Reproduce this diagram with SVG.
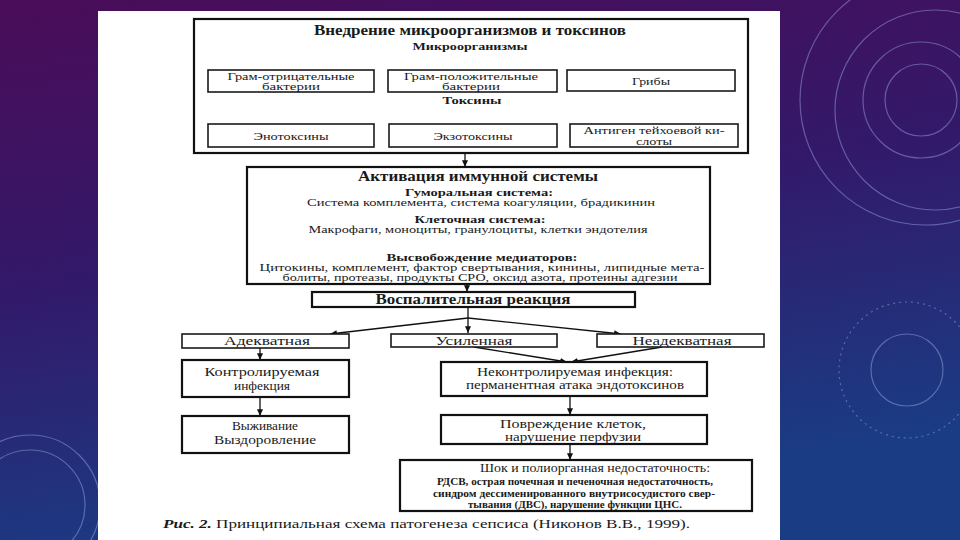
<svg xmlns="http://www.w3.org/2000/svg" width="960" height="540" viewBox="0 0 960 540">
<defs>
<linearGradient id="bg" x1="0" y1="0" x2="0.3" y2="1">
<stop offset="0" stop-color="#4a0c58"/>
<stop offset="0.5" stop-color="#33196a"/>
<stop offset="1" stop-color="#1a3c84"/>
</linearGradient>
<marker id="ah" viewBox="0 0 8 7" refX="8" refY="3.5" markerWidth="7" markerHeight="6" markerUnits="userSpaceOnUse" orient="auto">
<path d="M0,0 L8,3.5 L0,7 z" fill="#111"/>
</marker>
<style>
.b{fill:#fff;stroke:#1a1a1a;stroke-width:1.6}
.bo{fill:#fff;stroke:#111;stroke-width:2.2}
.t{font-family:"Liberation Serif","DejaVu Serif","Times New Roman",serif;fill:#1a1a1a;text-anchor:middle}
.s{font-size:10.5px}
.sb{font-size:10.5px;font-weight:bold}
.m{font-size:13px}
.m2{font-size:12px}
.h{font-size:14px;font-weight:bold}
.c{stroke:#111;stroke-width:1.3;fill:none}
.ca{stroke:#111;stroke-width:1.3;fill:none;marker-end:url(#ah)}
.deco{fill:none;stroke:#9fb0e6;stroke-opacity:0.45;stroke-width:1.2}
</style>
</defs>
<rect x="0" y="0" width="960" height="540" fill="url(#bg)"/>
<g id="decor">
<circle class="deco" cx="925" cy="100" r="125"/>
<circle class="deco" cx="935" cy="110" r="100" stroke-opacity="0.25"/>
<circle class="deco" cx="921" cy="100" r="36" stroke-width="1.6"/>
<circle class="deco" cx="921" cy="100" r="58" stroke-opacity="0.2"/>
<circle class="deco" cx="907" cy="370" r="36" stroke-width="1.6"/>
<circle class="deco" cx="907" cy="370" r="68" stroke-dasharray="2 4" stroke-opacity="0.35"/>
<circle class="deco" cx="30" cy="505" r="55"/>
<circle class="deco" cx="30" cy="505" r="70" stroke-opacity="0.25"/>
</g>
<rect x="98" y="11" width="682" height="529" fill="#fff"/>

<g id="connectors">
<path class="c" d="M297,57 H645"/>
<path class="ca" d="M297,57 V70"/>
<path class="ca" d="M465,57 V70"/>
<path class="ca" d="M645,57 V70"/>
<path class="c" d="M297,110 H647"/>
<path class="ca" d="M297,110 V124"/>
<path class="ca" d="M465,110 V124"/>
<path class="ca" d="M647,110 V124"/>
<path class="ca" d="M465,153 V167"/>
<path class="ca" d="M467,235 V253"/>
<path class="ca" d="M467,284 V292"/>
<path class="ca" d="M468,307 V333"/>
<path class="ca" d="M468,318 L330,334"/>
<path class="ca" d="M468,318 L621,334"/>
<path class="ca" d="M260,348 V360"/>
<path class="ca" d="M260,397 V416"/>
<path class="ca" d="M474,347 L567,362"/>
<path class="ca" d="M662,347 L571,362"/>
<path class="ca" d="M570,396 V415"/>
<path class="ca" d="M570,444 V460"/>
</g>

<g id="n-vnedrenie">
<rect class="bo" x="194" y="19" width="554" height="134"/>
<text class="t h" x="470" y="35" textLength="312" lengthAdjust="spacingAndGlyphs">Внедрение микроорганизмов и токсинов</text>
<text class="t sb" x="470" y="50" textLength="115" lengthAdjust="spacingAndGlyphs">Микроорганизмы</text>
<text class="t sb" x="472" y="104" textLength="59" lengthAdjust="spacingAndGlyphs">Токсины</text>
</g>
<g id="n-gram-neg">
<rect class="b" x="208" y="70" width="166" height="22"/>
<text class="t s" x="291" y="79.5" textLength="127" lengthAdjust="spacingAndGlyphs">Грам-отрицательные</text>
<text class="t s" x="291" y="90" textLength="58" lengthAdjust="spacingAndGlyphs">бактерии</text>
</g>
<g id="n-gram-pos">
<rect class="b" x="388" y="70" width="169" height="22"/>
<text class="t s" x="471" y="79.5" textLength="134" lengthAdjust="spacingAndGlyphs">Грам-положительные</text>
<text class="t s" x="471" y="90" textLength="58" lengthAdjust="spacingAndGlyphs">бактерии</text>
</g>
<g id="n-griby">
<rect class="b" x="567" y="70" width="168" height="21"/>
<text class="t s" x="651" y="84.5" textLength="38" lengthAdjust="spacingAndGlyphs">Грибы</text>
</g>
<g id="n-endotox">
<rect class="b" x="208" y="124" width="166" height="23"/>
<text class="t s" x="291" y="139.5" textLength="75" lengthAdjust="spacingAndGlyphs">Энотоксины</text>
</g>
<g id="n-exotox">
<rect class="b" x="389" y="124" width="168" height="23"/>
<text class="t s" x="473" y="139.5" textLength="79" lengthAdjust="spacingAndGlyphs">Экзотоксины</text>
</g>
<g id="n-antigen">
<rect class="b" x="570" y="124" width="168" height="23"/>
<text class="t s" x="654" y="134" textLength="141" lengthAdjust="spacingAndGlyphs">Антиген тейхоевой ки-</text>
<text class="t s" x="654" y="145" textLength="36" lengthAdjust="spacingAndGlyphs">слоты</text>
</g>

<g id="n-aktivaciya">
<rect class="bo" x="247" y="167" width="463" height="117"/>
<text class="t h" x="478" y="181" textLength="240" lengthAdjust="spacingAndGlyphs">Активация иммунной системы</text>
<text class="t sb" x="479" y="196" textLength="148" lengthAdjust="spacingAndGlyphs">Гуморальная система:</text>
<text class="t s" x="481" y="206" textLength="348" lengthAdjust="spacingAndGlyphs">Система комплемента, система коагуляции, брадикинин</text>
<text class="t sb" x="480" y="223" textLength="131" lengthAdjust="spacingAndGlyphs">Клеточная система:</text>
<text class="t s" x="478" y="233" textLength="339" lengthAdjust="spacingAndGlyphs">Макрофаги, моноциты, гранулоциты, клетки эндотелия</text>
<text class="t sb" x="482" y="261" textLength="191" lengthAdjust="spacingAndGlyphs">Высвобождение медиаторов:</text>
<text class="t s" x="482" y="270.5" textLength="445" lengthAdjust="spacingAndGlyphs">Цитокины, комплемент, фактор свертывания, кинины, липидные мета-</text>
<text class="t s" x="480" y="280.5" textLength="395" lengthAdjust="spacingAndGlyphs">болиты, протеазы, продукты СРО, оксид азота, протеины адгезии</text>
</g>
<g id="n-vospalenie">
<rect class="bo" x="312" y="292" width="323" height="15"/>
<text class="t h" x="473" y="304" textLength="195" lengthAdjust="spacingAndGlyphs">Воспалительная реакция</text>
</g>

<g id="n-adekvatnaya">
<rect class="b" x="182" y="334" width="167" height="14"/>
<text class="t m" x="267" y="345" textLength="86" lengthAdjust="spacingAndGlyphs">Адекватная</text>
</g>
<g id="n-usilennaya">
<rect class="b" x="391" y="334" width="166" height="13"/>
<text class="t m" x="474" y="344.5" textLength="77" lengthAdjust="spacingAndGlyphs">Усиленная</text>
</g>
<g id="n-neadekvatnaya">
<rect class="b" x="597" y="334" width="167" height="13"/>
<text class="t m" x="682" y="344.5" textLength="99" lengthAdjust="spacingAndGlyphs">Неадекватная</text>
</g>
<g id="n-kontrol">
<rect class="bo" x="182" y="360" width="167" height="37"/>
<text class="t m" x="262" y="376" textLength="115" lengthAdjust="spacingAndGlyphs">Контролируемая</text>
<text class="t m" x="262" y="390" textLength="56" lengthAdjust="spacingAndGlyphs">инфекция</text>
</g>
<g id="n-vyzhivanie">
<rect class="bo" x="182" y="416" width="167" height="37"/>
<text class="t m" x="265" y="430" textLength="66" lengthAdjust="spacingAndGlyphs">Выживание</text>
<text class="t m" x="265" y="444" textLength="102" lengthAdjust="spacingAndGlyphs">Выздоровление</text>
</g>
<g id="n-nekontrol">
<rect class="bo" x="441" y="362" width="266" height="34"/>
<text class="t m2" x="575" y="375.5" textLength="196" lengthAdjust="spacingAndGlyphs">Неконтролируемая инфекция:</text>
<text class="t m2" x="575" y="389" textLength="218" lengthAdjust="spacingAndGlyphs">перманентная атака эндотоксинов</text>
</g>
<g id="n-povrezhdenie">
<rect class="bo" x="441" y="415" width="266" height="29"/>
<text class="t m2" x="573" y="427.5" textLength="146" lengthAdjust="spacingAndGlyphs">Повреждение клеток,</text>
<text class="t m2" x="573" y="441" textLength="136" lengthAdjust="spacingAndGlyphs">нарушение перфузии</text>
</g>
<g id="n-shok">
<rect class="bo" x="400" y="460" width="352" height="51"/>
<text class="t m" x="595" y="472" textLength="230" lengthAdjust="spacingAndGlyphs">Шок и полиорганная недостаточность:</text>
<text class="t sb" x="575" y="484.5" style="font-size:10px" textLength="276" lengthAdjust="spacingAndGlyphs">РДСВ, острая почечная и печеночная недостаточность,</text>
<text class="t sb" x="574" y="496.5" style="font-size:10px" textLength="282" lengthAdjust="spacingAndGlyphs">синдром дессименированного внутрисосудистого свер-</text>
<text class="t sb" x="575" y="508" style="font-size:10px" textLength="214" lengthAdjust="spacingAndGlyphs">тывания (ДВС), нарушение функции ЦНС.</text>
</g>

<text class="t" x="163" y="528" style="text-anchor:start;font-size:13.5px" textLength="527" lengthAdjust="spacingAndGlyphs"><tspan font-weight="bold" font-style="italic">Рис. 2.</tspan> Принципиальная схема патогенеза сепсиса (Никонов В.В., 1999).</text>
</svg>
